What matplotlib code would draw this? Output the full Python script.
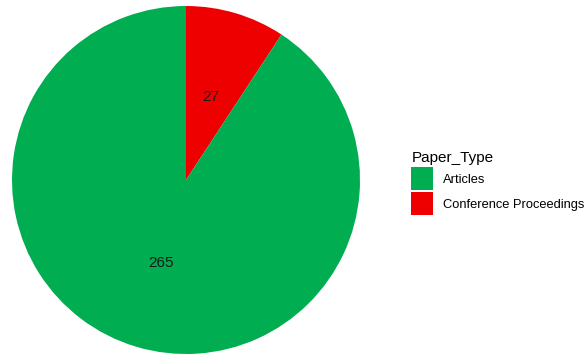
import matplotlib.pyplot as plt
import matplotlib.patches as mpatches

# Paper types and how many of each
paper_types = ['Articles', 'Conference Proceedings']
counts = [265, 27]
colors = ['#00AD50', '#EE0000']

plt.rcParams['font.family'] = ['Liberation Sans', 'DejaVu Sans']

W, H = 587, 357
fig = plt.figure(figsize=(W / 100, H / 100), dpi=100)

# pie area, square, placed in pixel units
cx, cy, r = 186, 177, 174
ax = fig.add_axes([(cx - r) / W, (cy - r) / H, 2 * r / W, 2 * r / H])

total = sum(counts)
# draw Conference Proceedings first so it starts at 12 o'clock going clockwise
order = [1, 0]
wedges, texts, autotexts = ax.pie(
    [counts[i] for i in order],
    colors=[colors[i] for i in order],
    startangle=90, counterclock=False, radius=1,
    autopct=lambda p: f"{round(p * total / 100)}",
    pctdistance=0.5,
    wedgeprops=dict(linewidth=0),
    textprops=dict(fontsize=11, color='#1a1a1a'),
)
ax.set_xlim(-1, 1)
ax.set_ylim(-1, 1)
ax.set_aspect('equal')
ax.axis('off')

handles = [mpatches.Patch(facecolor=c, edgecolor='none') for c in colors]
leg = fig.legend(handles, paper_types, title='Paper_Type',
                 loc='upper left', bbox_to_anchor=(401 / W, 1 - 141 / H),
                 frameon=False, fontsize=9.3, title_fontsize=11,
                 handlelength=1.69, handleheight=2.35,
                 labelspacing=0.15, handletextpad=0.75,
                 alignment='left', borderpad=0.3)

fig.savefig('out.png', dpi=100)
